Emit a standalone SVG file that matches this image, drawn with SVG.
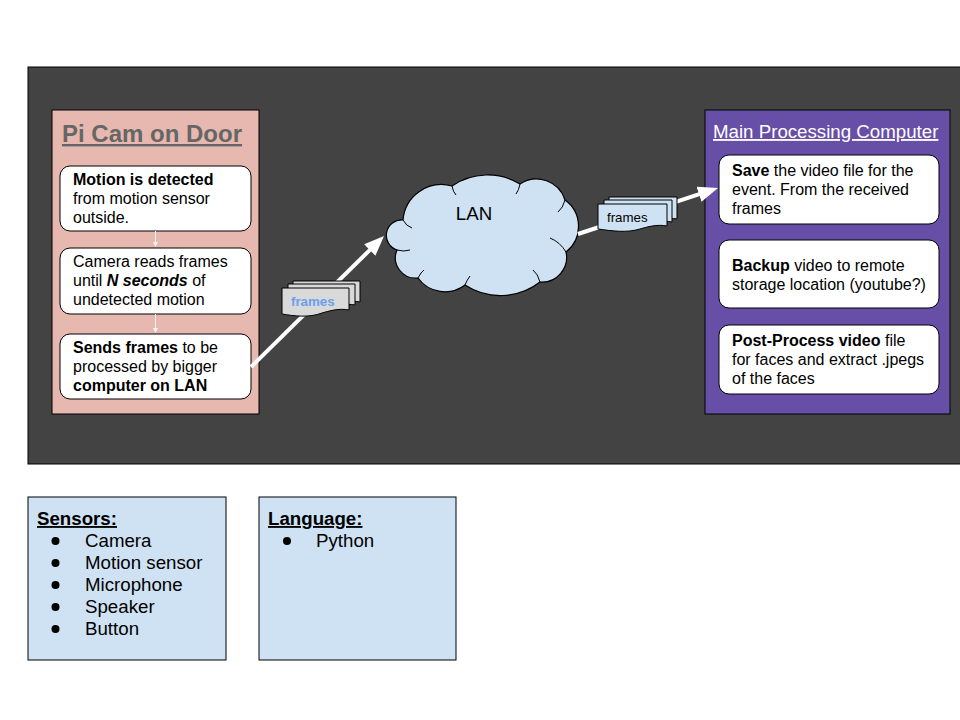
<svg xmlns="http://www.w3.org/2000/svg" width="960" height="720" viewBox="0 0 960 720">
  <style>
    text { font-family: "Liberation Sans", Arial, sans-serif; fill: #000000; }
    .body { font-size: 16px; }
    .b { font-weight: bold; }
    .inner { fill: #ffffff; stroke: #000000; stroke-width: 1; }
    .list { font-size: 18.7px; }
    .head { font-size: 18.7px; font-weight: bold; text-decoration: underline; }
    .note { fill: #cfe2f3; stroke: #000000; stroke-width: 1; }
    .big { stroke: #ffffff; stroke-width: 4; fill: none; }
    .thin { stroke: #f3f3f3; stroke-width: 1; fill: none; }
  </style>
  <defs>
    <marker id="bigHead" markerUnits="userSpaceOnUse" markerWidth="22" markerHeight="18" refX="2" refY="8" orient="auto">
      <path d="M0,0 L20,8 L0,16 Z" fill="#ffffff"/>
    </marker>
    <marker id="smallHead" markerUnits="userSpaceOnUse" markerWidth="6" markerHeight="6" refX="1" refY="2.5" orient="auto">
      <path d="M0,0 L5,2.5 L0,5 Z" fill="#f3f3f3"/>
    </marker>
  </defs>

  <rect x="0" y="0" width="960" height="720" fill="#ffffff"/>

  <g id="background">
    <rect x="28" y="67" width="940" height="397" fill="#434343" stroke="#000000" stroke-width="1"/>
  </g>

  <g id="pi-cam">
    <rect x="52" y="110" width="207" height="304" fill="#e6b8af" stroke="#000000" stroke-width="1"/>
    <text x="62" y="142" font-size="24" font-weight="bold" text-decoration="underline" style="fill:#666666">Pi Cam on Door</text>
  </g>

  <g id="motion-detected">
    <rect class="inner" x="60" y="166" width="191" height="65" rx="10"/>
    <text class="body" x="73" y="185"><tspan class="b">Motion is detected</tspan></text>
    <text class="body" x="73" y="204">from motion sensor</text>
    <text class="body" x="73" y="223">outside.</text>
  </g>

  <g id="camera-reads">
    <rect class="inner" x="60" y="248" width="191" height="66" rx="10"/>
    <text class="body" x="73" y="267">Camera reads frames</text>
    <text class="body" x="73" y="286">until <tspan class="b" font-style="italic">N seconds</tspan> of</text>
    <text class="body" x="73" y="305">undetected motion</text>
  </g>

  <g id="sends-frames">
    <rect class="inner" x="60" y="334" width="191" height="65" rx="10"/>
    <text class="body" x="73" y="353"><tspan class="b">Sends frames</tspan> to be</text>
    <text class="body" x="73" y="372">processed by bigger</text>
    <text class="body" x="73" y="391"><tspan class="b">computer on LAN</tspan></text>
  </g>

  <g id="main-computer">
    <rect x="705" y="110" width="245" height="304" fill="#674ea7" stroke="#000000" stroke-width="1"/>
    <text x="713" y="138" font-size="18.7" text-decoration="underline" style="fill:#ffffff">Main Processing Computer</text>
  </g>

  <g id="save-video">
    <rect class="inner" x="719" y="155" width="220" height="69" rx="10"/>
    <text class="body" x="732" y="176"><tspan class="b">Save</tspan> the video file for the</text>
    <text class="body" x="732" y="195">event. From the received</text>
    <text class="body" x="732" y="214">frames</text>
  </g>

  <g id="backup-video">
    <rect class="inner" x="719" y="240" width="220" height="68" rx="10"/>
    <text class="body" x="732" y="271"><tspan class="b">Backup</tspan> video to remote</text>
    <text class="body" x="732" y="290">storage location (youtube?)</text>
  </g>

  <g id="post-process">
    <rect class="inner" x="719" y="325" width="220" height="69" rx="10"/>
    <text class="body" x="732" y="346"><tspan class="b">Post-Process video</tspan> file</text>
    <text class="body" x="732" y="365">for faces and extract .jpegs</text>
    <text class="body" x="732" y="384">of the faces</text>
  </g>

  <g id="lan-cloud">
    <path d="M403,220 A38.7,38.7 0 0 1 452,186 A62.8,62.8 0 0 1 520,184 A29.8,29.8 0 0 1 565,200 A32.5,32.5 0 0 1 566,252 A24.7,24.7 0 0 1 540,282 A64.6,64.6 0 0 1 465,285 A33.2,33.2 0 0 1 418,278 A20.3,20.3 0 0 1 397,250 A15.4,15.4 0 0 1 403,220 Z" fill="#cfe2f3" stroke="#000000" stroke-width="1.2"/>
    <path d="M403,220 Q406,226 412,228 M452,186 Q453,192 456,195 M520,184 Q519,190 516,194 M565,200 Q563,208 558,212 M566,252 Q560,242 550,238 M540,282 Q538,274 533,270 M465,285 Q467,280 470,276 M418,278 Q421,272 424,270 M397,250 Q404,252 410,250" fill="none" stroke="#000000" stroke-width="1"/>
    <text x="474" y="220" font-size="18.7" text-anchor="middle">LAN</text>
  </g>

  <g id="connectors">
    <line class="thin" x1="155.5" y1="231" x2="155.5" y2="243" marker-end="url(#smallHead)"/>
    <line class="thin" x1="155.5" y1="314" x2="155.5" y2="329" marker-end="url(#smallHead)"/>
    <line class="big" x1="251" y1="367" x2="371.2" y2="248.6" marker-end="url(#bigHead)"/>
    <line class="big" x1="578" y1="234" x2="700.9" y2="193.6" marker-end="url(#bigHead)"/>
  </g>

  <g id="frames-1">
    <path d="M293,281 H360 V302 C350,300 340,303 333,305 C320,309 305,307 293,305 Z" fill="#d9d9d9" stroke="#000000" stroke-width="1"/>
    <path d="M288,284 H355 V305 C345,303 335,306 328,308 C315,312 300,310 288,308 Z" fill="#d9d9d9" stroke="#000000" stroke-width="1"/>
    <path d="M282,288 H349 V310 C339,308 329,311 322,313 C309,318 294,316 282,314 Z" fill="#d9d9d9" stroke="#000000" stroke-width="1"/>
    <text x="291" y="306" font-size="13.3" font-weight="bold" style="fill:#6d9eeb">frames</text>
  </g>

  <g id="frames-2">
    <path d="M609,197 H677 V219 C667,217 657,220 650,222 C637,226 622,224 609,222 Z" fill="#cfe2f3" stroke="#000000" stroke-width="1"/>
    <path d="M604,200 H672 V222 C662,220 652,223 645,225 C632,229 617,227 604,225 Z" fill="#cfe2f3" stroke="#000000" stroke-width="1"/>
    <path d="M598,204 H667 V226 C657,224 647,227 640,229 C627,233 612,231 598,229 Z" fill="#cfe2f3" stroke="#000000" stroke-width="1"/>
    <text x="607" y="222" font-size="13.3">frames</text>
  </g>

  <g id="sensors">
    <rect class="note" x="28" y="497" width="198" height="163"/>
    <text class="head" x="37" y="525">Sensors:</text>
    <circle cx="55.5" cy="541" r="4" fill="#000000"/>
    <circle cx="55.5" cy="563" r="4" fill="#000000"/>
    <circle cx="55.5" cy="585" r="4" fill="#000000"/>
    <circle cx="55.5" cy="607" r="4" fill="#000000"/>
    <circle cx="55.5" cy="629" r="4" fill="#000000"/>
    <text class="list" x="85" y="547">Camera</text>
    <text class="list" x="85" y="569">Motion sensor</text>
    <text class="list" x="85" y="591">Microphone</text>
    <text class="list" x="85" y="613">Speaker</text>
    <text class="list" x="85" y="635">Button</text>
  </g>

  <g id="language">
    <rect class="note" x="259" y="497" width="197" height="163"/>
    <text class="head" x="268" y="525">Language:</text>
    <circle cx="287" cy="541" r="4" fill="#000000"/>
    <text class="list" x="316" y="547">Python</text>
  </g>
</svg>
